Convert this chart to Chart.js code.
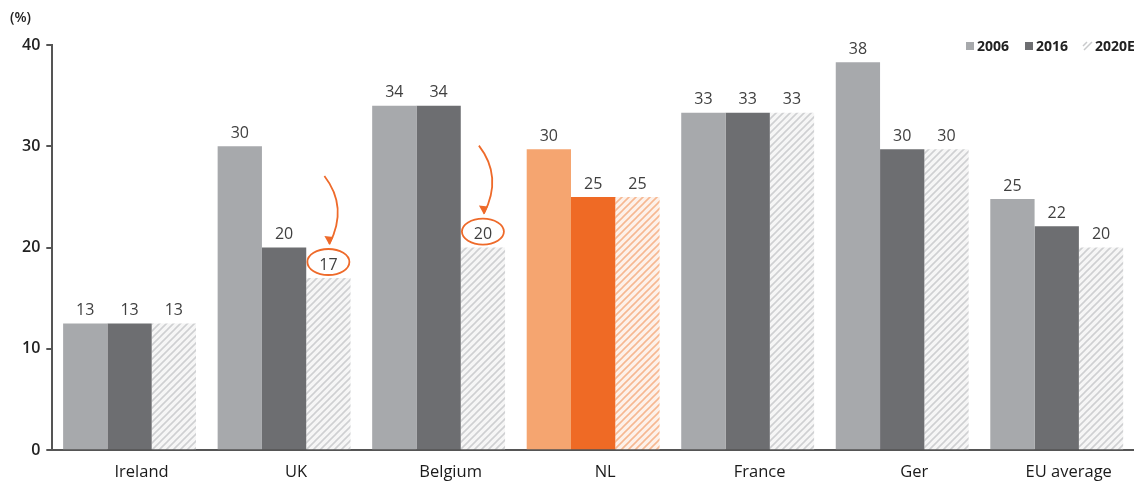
<!DOCTYPE html>
<html>
<head>
<meta charset="utf-8">
<script src="https://cdn.jsdelivr.net/npm/chart.js@4"></script>
<style>
  html, body { margin: 0; padding: 0; background: #fff; }
  #wrap { width: 1134px; height: 483px; }
</style>
</head>
<body>
<div id="wrap"><canvas id="chart" width="1134" height="483"></canvas></div>
<script>
var categories = ["Ireland", "UK", "Belgium", "NL", "France", "Ger", "EU average"];
var seriesNames = ["2006", "2016", "2020E"];
var values2006 = [12.5, 30, 34, 29.7, 33.3, 38.3, 24.8];
var values2016 = [12.5, 20, 34, 25, 33.3, 29.7, 22.1];
var values2020 = [12.5, 17, 20, 25, 33.3, 29.7, 20];
var yTicks = [0, 10, 20, 30, 40];
var highlighted = [1, 2]; // UK and Belgium 2020E are circled

function hatch(stripe, bg) {
    var c = document.createElement("canvas");
    c.width = 7; c.height = 7;
    var g = c.getContext("2d");
    g.fillStyle = bg;
    g.fillRect(0, 0, 7, 7);
    g.strokeStyle = stripe;
    g.lineWidth = 1.6;
    g.beginPath();
    g.moveTo(-1, 8); g.lineTo(8, -1);
    g.moveTo(-1, 1); g.lineTo(1, -1);
    g.moveTo(6, 8); g.lineTo(8, 6);
    g.stroke();
    return g.createPattern(c, "repeat");
}

var ctxEl = document.getElementById("chart");
var grayHatch = hatch("#cfd0d2", "#f6f6f6");
var orangeHatch = hatch("#f6b892", "#fdf1ea");

function colorsFor(normal, nl) {
    return categories.map(function (c) { return c === "NL" ? nl : normal; });
}

var legendColors = ["#a7a9ac", "#6d6e71", null];

var decorations = {
    id: "decorations",
    afterDatasetsDraw: function (chart) {
        var g = chart.ctx;
        g.save();
        // value labels
        g.font = "16px 'Open Sans', sans-serif";
        g.fillStyle = "#404040";
        g.textAlign = "center";
        g.textBaseline = "bottom";
        chart.data.datasets.forEach(function (ds, i) {
            var meta = chart.getDatasetMeta(i);
            meta.data.forEach(function (bar, j) {
                g.fillText(String(Math.round(ds.data[j])), bar.x, bar.y - 5);
            });
        });
        // orange circles and arrows
        var meta2 = chart.getDatasetMeta(2);
        g.strokeStyle = "#ee6a2a";
        g.fillStyle = "#ee6a2a";
        g.lineWidth = 1.8;
        highlighted.forEach(function (j) {
            var bar = meta2.data[j];
            var cx = bar.x, cy = bar.y - 16;
            g.beginPath();
            g.ellipse(cx, cy, 21, 13, 0, 0, Math.PI * 2);
            g.stroke();
            var sx = cx - 4, sy = cy - 86, ex = cx + 1, ey = cy - 18;
            g.beginPath();
            g.moveTo(sx, sy);
            g.quadraticCurveTo(cx + 20, cy - 55, ex, ey);
            g.stroke();
            g.beginPath();
            g.moveTo(ex, ey + 1);
            g.lineTo(ex - 5, ey - 8);
            g.lineTo(ex + 4, ey - 7);
            g.closePath();
            g.fill();
        });
        // y unit
        g.font = "600 14px 'Open Sans', sans-serif";
        g.fillStyle = "#222";
        g.textAlign = "left";
        g.textBaseline = "middle";
        g.fillText("(%)", 10, 18);
        // legend (last entry runs off the right edge, as in the source)
        var lx = 966, ly = 46;
        g.font = "bold 14px 'Open Sans', sans-serif";
        seriesNames.forEach(function (name, i) {
            if (legendColors[i]) {
                g.fillStyle = legendColors[i];
                g.fillRect(lx, ly - 4, 8, 8);
            } else {
                g.strokeStyle = "#c9cacc";
                g.lineWidth = 1.5;
                g.beginPath();
                g.moveTo(lx, ly + 4); g.lineTo(lx + 8, ly - 4);
                g.moveTo(lx - 1, ly); g.lineTo(lx + 3, ly - 4);
                g.stroke();
            }
            g.fillStyle = "#222";
            g.fillText(name, lx + 11, ly + 1);
            lx += 59;
        });
        g.restore();
    }
};

new Chart(ctxEl, {
    type: "bar",
    data: {
        labels: categories,
        datasets: [{
            label: seriesNames[0],
            data: values2006,
            backgroundColor: colorsFor("#a7a9ac", "#f5a570")
        }, {
            label: seriesNames[1],
            data: values2016,
            backgroundColor: colorsFor("#6d6e71", "#ef6a25")
        }, {
            label: seriesNames[2],
            data: values2020,
            backgroundColor: colorsFor(grayHatch, orangeHatch)
        }]
    },
    options: {
        responsive: false,
        animation: false,
        layout: { padding: { top: 45, right: 0, left: 16, bottom: -3 } },
        categoryPercentage: 0.86,
        barPercentage: 1,
        plugins: {
            legend: { display: false },
            tooltip: { enabled: false }
        },
        scales: {
            x: {
                grid: { display: false },
                border: { display: true, color: "#555", width: 2 },
                ticks: {
                    color: "#1a1a1a",
                    font: { family: "'Open Sans', sans-serif", size: 16.5 },
                    padding: 4,
                    labelOffset: 12,
                    maxRotation: 0
                }
            },
            y: {
                min: 0,
                max: 40,
                afterBuildTicks: function (axis) {
                    axis.ticks = yTicks.map(function (v) { return { value: v }; });
                },
                grid: { display: true, drawOnChartArea: false, drawTicks: true, tickLength: 6, color: "#555", lineWidth: 2 },
                border: { display: true, color: "#555", width: 2 },
                ticks: {
                    color: "#222",
                    font: { family: "'Open Sans', sans-serif", size: 16, weight: "600" },
                    padding: 6
                }
            }
        }
    },
    plugins: [decorations]
});
</script>
</body>
</html>
